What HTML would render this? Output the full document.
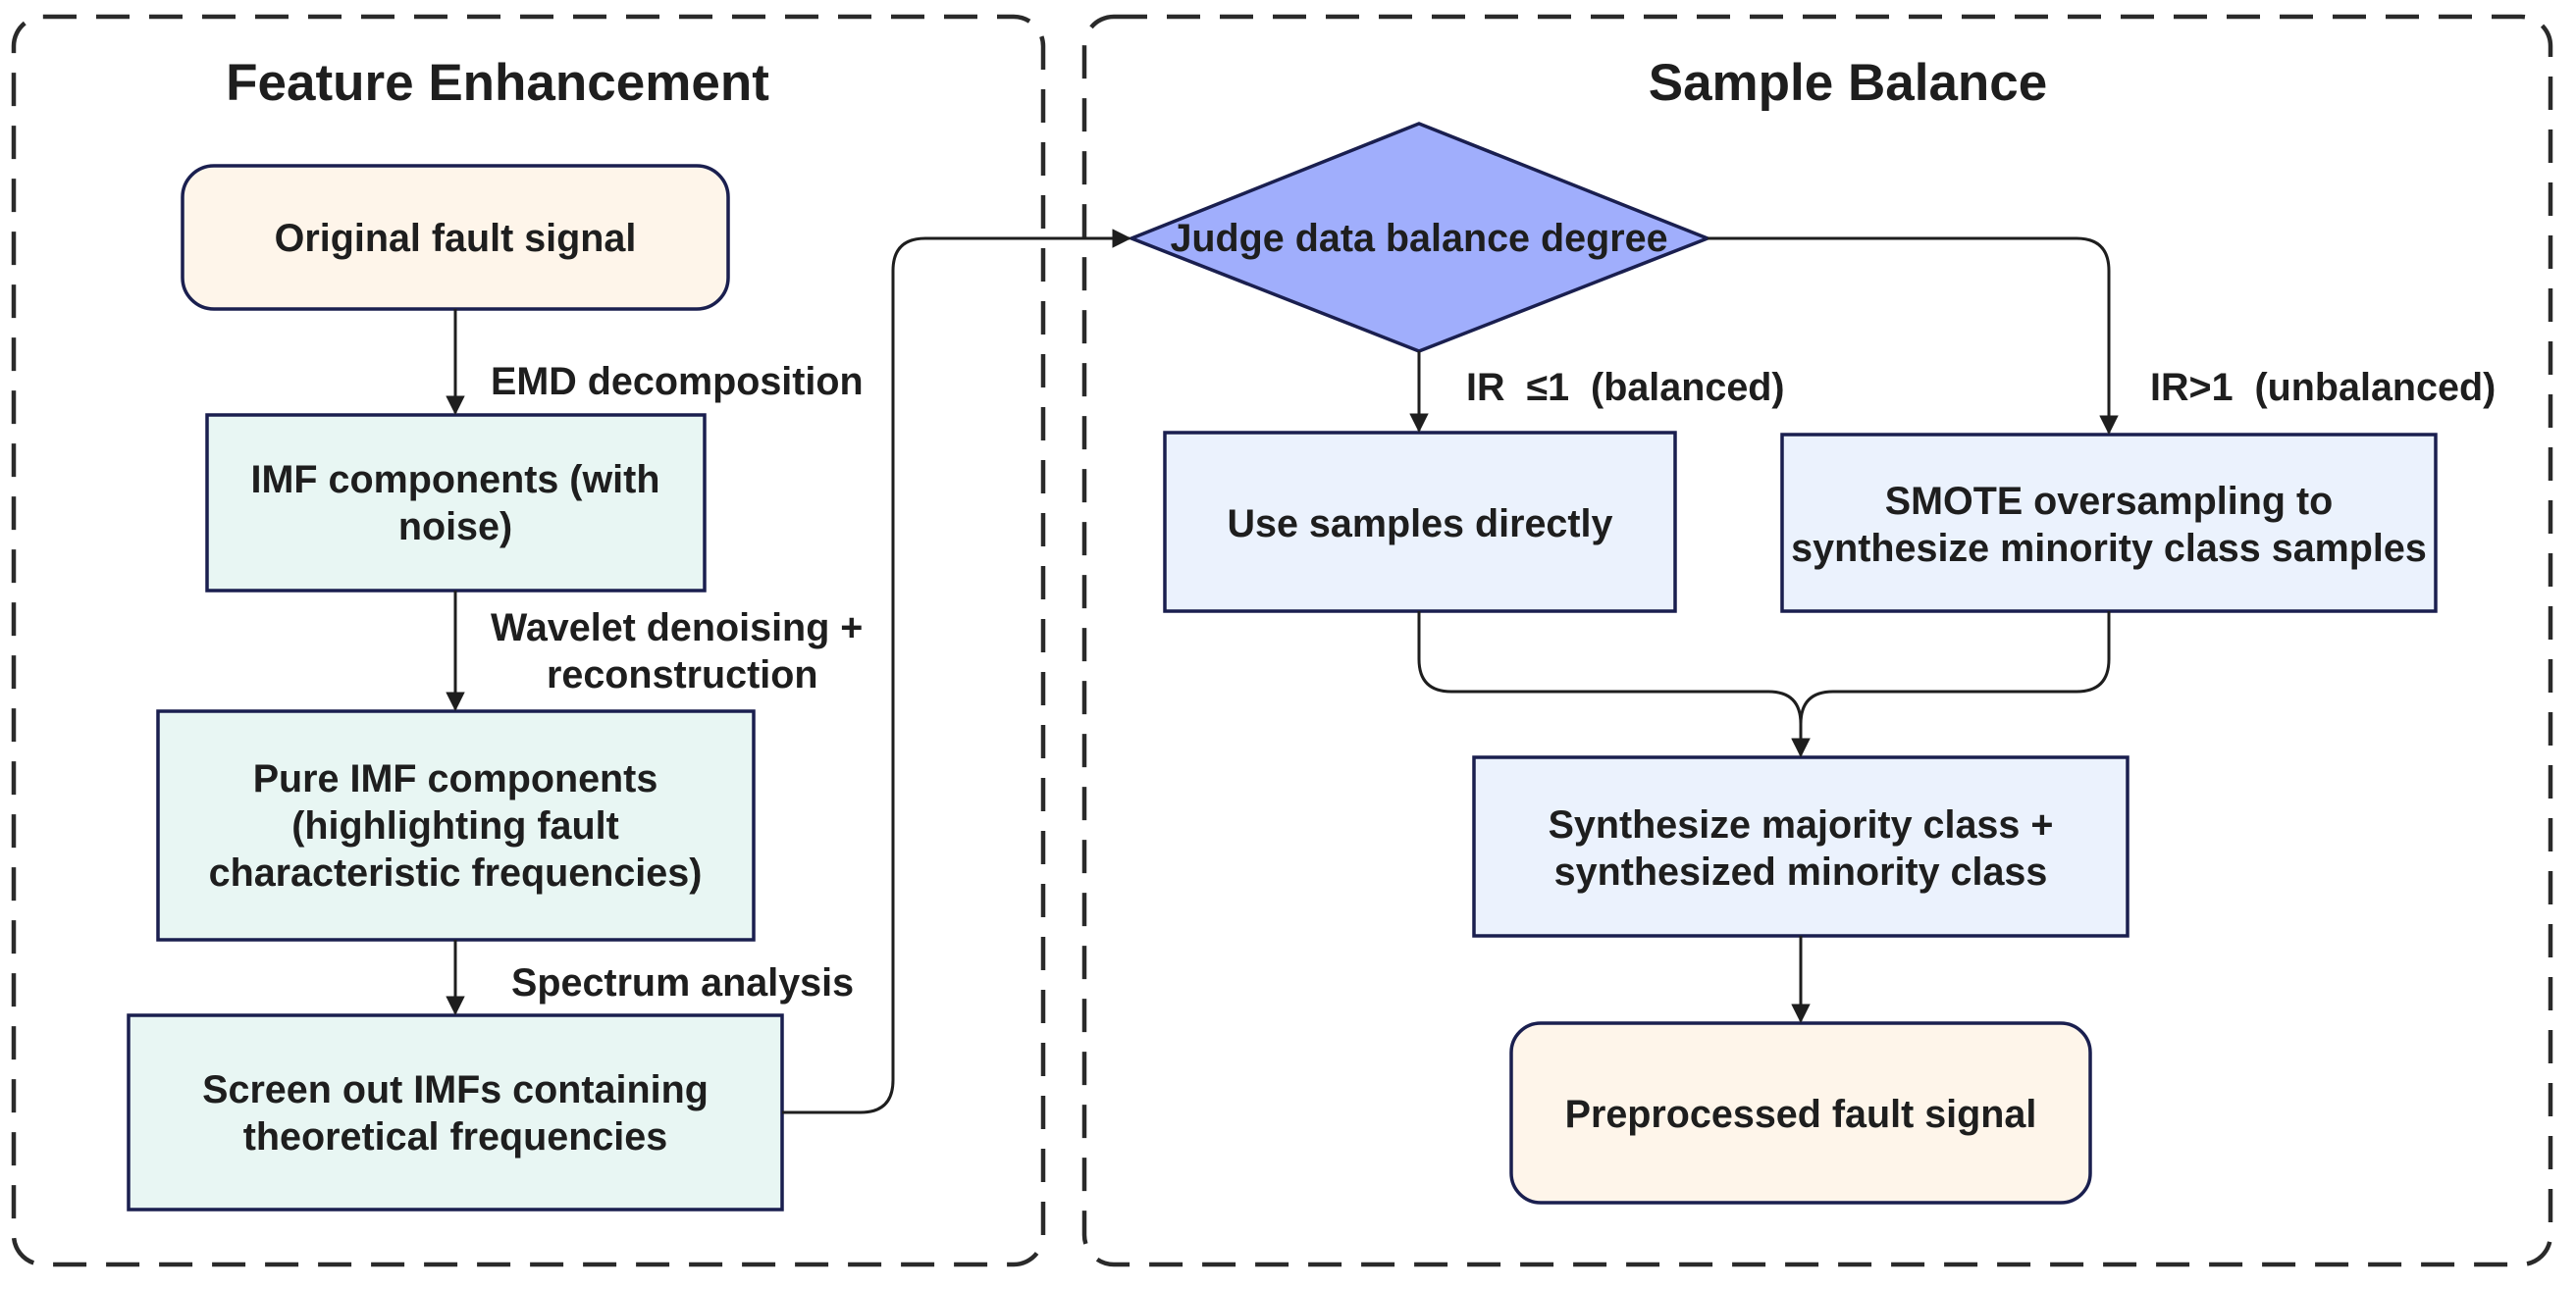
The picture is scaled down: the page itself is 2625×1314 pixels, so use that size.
<!DOCTYPE html>
<html><head><meta charset="utf-8"><style>
html,body{margin:0;padding:0;background:#fff}
svg{display:block}
text{font-family:"Liberation Sans","DejaVu Sans",sans-serif;font-weight:bold;fill:#1e1e1e}
</style></head><body>
<svg width="2625" height="1314" viewBox="0 0 2625 1314" xmlns="http://www.w3.org/2000/svg">
<defs>
<marker id="a" viewBox="0 0 10 10" refX="9" refY="5" markerWidth="6.5" markerHeight="6.5" orient="auto" markerUnits="strokeWidth">
<path d="M0,0 L10,5 L0,10 z" fill="#1e1e1e"/></marker>
</defs>
<g fill="none" stroke="#2a2a2a" stroke-width="4.5" stroke-dasharray="34,20">
<rect x="14" y="17" width="1049" height="1272" rx="30"/>
<rect x="1105" y="17" width="1494" height="1272" rx="30"/>
</g>
<text x="507" y="102" font-size="53" text-anchor="middle">Feature Enhancement</text>
<text x="1883" y="102" font-size="53" text-anchor="middle">Sample Balance</text>

<g stroke="#1a1f4f" stroke-width="3.5">
<rect x="186" y="169" width="556" height="146" rx="32" fill="#fef5ea"/>
<rect x="211" y="423" width="507" height="179" fill="#e8f6f3"/>
<rect x="161" y="725" width="607" height="233" fill="#e8f6f3"/>
<rect x="131" y="1035" width="666" height="198" fill="#e8f6f3"/>
<polygon points="1153,243 1446,126 1740,243 1446,358" fill="#a0aefc"/>
<rect x="1187" y="441" width="520" height="182" fill="#ebf2fd"/>
<rect x="1816" y="443" width="666" height="180" fill="#ebf2fd"/>
<rect x="1502" y="772" width="666" height="182" fill="#ebf2fd"/>
<rect x="1540" y="1043" width="590" height="183" rx="30" fill="#fef5ea"/>
</g>

<g fill="none" stroke="#1e1e1e" stroke-width="3" marker-end="url(#a)">
<path d="M464,315 V421"/>
<path d="M464,602 V723"/>
<path d="M464,958 V1033"/>
<path d="M797,1134 H877 Q910,1134 910,1101 V276 Q910,243 943,243 H1151"/>
<path d="M1446,358 V439"/>
<path d="M1740,243 H2116 Q2149,243 2149,276 V441"/>
<path d="M1446,623 V672 Q1446,705 1479,705 H1802 Q1835,705 1835,738 V770"/>
<path d="M2149,623 V672 Q2149,705 2116,705 H1868 Q1835,705 1835,738 V770"/>
<path d="M1835,954 V1041"/>
</g>

<g font-size="39.5" text-anchor="middle">
<text x="464" y="256">Original fault signal</text>
<text x="464" y="502">IMF components (with</text>
<text x="464" y="550">noise)</text>
<text x="464" y="807">Pure IMF components</text>
<text x="464" y="855">(highlighting fault</text>
<text x="464" y="903">characteristic frequencies)</text>
<text x="464" y="1124">Screen out IMFs containing</text>
<text x="464" y="1172">theoretical frequencies</text>
<text x="1446" y="256">Judge data balance degree</text>
<text x="1447" y="547">Use samples directly</text>
<text x="2149" y="524">SMOTE oversampling to</text>
<text x="2149" y="572">synthesize minority class samples</text>
<text x="1835" y="854">Synthesize majority class +</text>
<text x="1835" y="902">synthesized minority class</text>
<text x="1835" y="1149">Preprocessed fault signal</text>
</g>
<g font-size="39.5">
<text x="500" y="402">EMD decomposition</text>
<text x="500" y="653">Wavelet denoising +</text>
<text x="557" y="701">reconstruction</text>
<text x="521" y="1015">Spectrum analysis</text>
<text x="1494" y="408">IR&#160;&#160;≤1&#160;&#160;(balanced)</text>
<text x="2191" y="408">IR&gt;1&#160;&#160;(unbalanced)</text>
</g>
</svg>
</body></html>
